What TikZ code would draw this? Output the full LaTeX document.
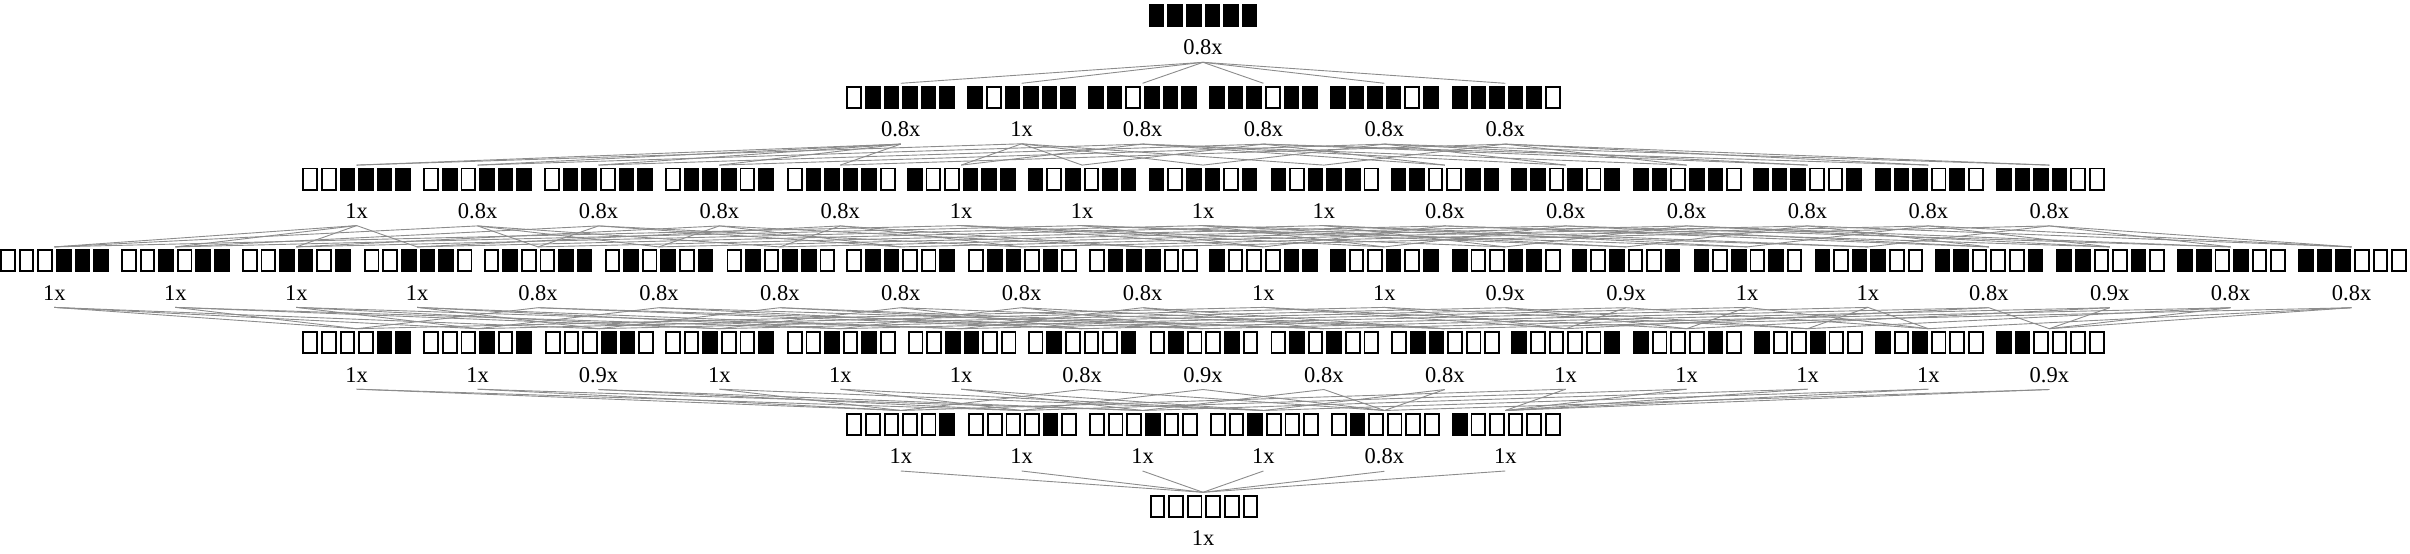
\documentclass[tikz,border=0pt]{standalone}
\usepackage{fontspec}
\setmainfont{Liberation Serif}
\newlength\bw \setlength\bw{15.6pt}
\newlength\bh \setlength\bh{23pt}
\newlength\bg \setlength\bg{3pt}
\newlength\bt \setlength\bt{1.9pt}
\newcommand\blk{\rule{\bw}{\bh}}
\newcommand\wht{\rlap{\rule{\bw}{\bh}}\hspace{\bt}\textcolor{white}{\rule[\bt]{\dimexpr\bw-2\bt\relax}{\dimexpr\bh-2\bt\relax}}\hspace{\bt}}
\def\onebit#1{\ifnum#1=1\relax\blk\else\wht\fi}
\def\bitrow#1#2#3#4#5#6{\onebit#1\hspace{\bg}\onebit#2\hspace{\bg}\onebit#3\hspace{\bg}\onebit#4\hspace{\bg}\onebit#5\hspace{\bg}\onebit#6}
\def\kids#1#2#3#4#5#6{%
\ifnum#1=1\relax\draw[edge](l#1#2#3#4#5#6.south)--(n0#2#3#4#5#6.north);\fi
\ifnum#2=1\relax\draw[edge](l#1#2#3#4#5#6.south)--(n#10#3#4#5#6.north);\fi
\ifnum#3=1\relax\draw[edge](l#1#2#3#4#5#6.south)--(n#1#20#4#5#6.north);\fi
\ifnum#4=1\relax\draw[edge](l#1#2#3#4#5#6.south)--(n#1#2#30#5#6.north);\fi
\ifnum#5=1\relax\draw[edge](l#1#2#3#4#5#6.south)--(n#1#2#3#40#6.north);\fi
\ifnum#6=1\relax\draw[edge](l#1#2#3#4#5#6.south)--(n#1#2#3#4#50.north);\fi}
\newcommand\placelevel[3]{%
  \foreach \b/\t [count=\i] in {#3}{%
    \pgfmathsetmacro\xx{1203+(\i-1-(#2-1)/2)*120.9}%
    \pgfmathsetmacro\yb{554-4-11.5-81.8*#1}%
    \pgfmathsetmacro\yl{554-55-81.8*#1}%
    \node[bits] (n\b) at (\xx,\yb) {\expandafter\bitrow\b};
    \node[lab] (l\b) at (\xx,\yl) {\t};
  }}
\newcommand\edgelevel[1]{\foreach \b/\t in {#1}{\expandafter\kids\b}}
\newcommand\LA{111111/0.8x}
\newcommand\LB{011111/0.8x,101111/1x,110111/0.8x,111011/0.8x,111101/0.8x,111110/0.8x}
\newcommand\LC{001111/1x,010111/0.8x,011011/0.8x,011101/0.8x,011110/0.8x,100111/1x,101011/1x,101101/1x,101110/1x,110011/0.8x,110101/0.8x,110110/0.8x,111001/0.8x,111010/0.8x,111100/0.8x}
\newcommand\LD{000111/1x,001011/1x,001101/1x,001110/1x,010011/0.8x,010101/0.8x,010110/0.8x,011001/0.8x,011010/0.8x,011100/0.8x,100011/1x,100101/1x,100110/0.9x,101001/0.9x,101010/1x,101100/1x,110001/0.8x,110010/0.9x,110100/0.8x,111000/0.8x}
\newcommand\LE{000011/1x,000101/1x,000110/0.9x,001001/1x,001010/1x,001100/1x,010001/0.8x,010010/0.9x,010100/0.8x,011000/0.8x,100001/1x,100010/1x,100100/1x,101000/1x,110000/0.9x}
\newcommand\LF{000001/1x,000010/1x,000100/1x,001000/1x,010000/0.8x,100000/1x}
\newcommand\LG{000000/1x}
\begin{document}
\begin{tikzpicture}[x=1pt,y=1pt,
  bits/.style={inner xsep=0pt,inner ysep=2.5pt,outer sep=0pt},
  lab/.style={font=\fontsize{22.5}{27}\selectfont,anchor=base,inner xsep=2pt,inner ysep=7pt,outer sep=0pt},
  edge/.style={draw=black!45,line width=0.9pt}]
\useasboundingbox (0,0) rectangle (2410,554);
\expandafter\placelevel\expandafter0\expandafter1\expandafter{\LA}
\expandafter\placelevel\expandafter1\expandafter6\expandafter{\LB}
\expandafter\placelevel\expandafter2\expandafter{\expandafter1\expandafter5\expandafter}\expandafter{\LC}
\expandafter\placelevel\expandafter3\expandafter{\expandafter2\expandafter0\expandafter}\expandafter{\LD}
\expandafter\placelevel\expandafter4\expandafter{\expandafter1\expandafter5\expandafter}\expandafter{\LE}
\expandafter\placelevel\expandafter5\expandafter6\expandafter{\LF}
\expandafter\placelevel\expandafter6\expandafter1\expandafter{\LG}
\expandafter\edgelevel\expandafter{\LA}
\expandafter\edgelevel\expandafter{\LB}
\expandafter\edgelevel\expandafter{\LC}
\expandafter\edgelevel\expandafter{\LD}
\expandafter\edgelevel\expandafter{\LE}
\expandafter\edgelevel\expandafter{\LF}
\end{tikzpicture}
\end{document}
